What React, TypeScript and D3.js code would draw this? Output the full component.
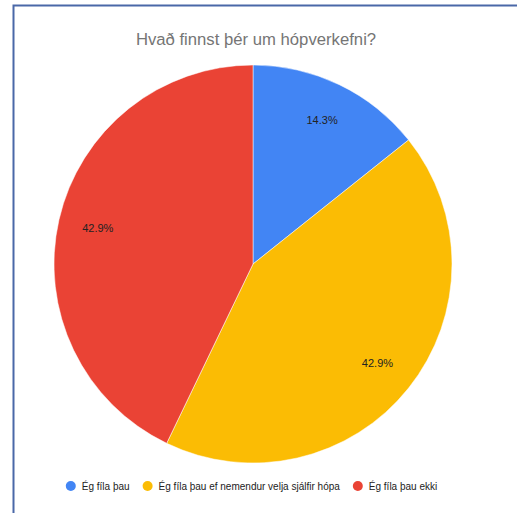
import React, { useEffect, useRef } from "react";
import * as d3 from "d3";

const title = "Hvað finnst þér um hópverkefni?";
const categories = [
  "Ég fíla þau",
  "Ég fíla þau ef nemendur velja sjálfir hópa",
  "Ég fíla þau ekki",
];
const values = [1, 3, 3];
const colors = ["#4285f4", "#fbbc04", "#ea4335"];

const W = 517;
const H = 513;
const FONT = "Arial, 'Liberation Sans', sans-serif";

export default function App() {
  const ref = useRef<SVGSVGElement | null>(null);

  useEffect(() => {
    const svg = d3.select(ref.current);
    svg.selectAll("*").remove();

    svg.append("rect").attr("width", W).attr("height", H).attr("fill", "#ffffff");

    // frame
    svg
      .append("path")
      .attr("d", `M13.5,${H} L13.5,5.5 L${W},5.5`)
      .attr("fill", "none")
      .attr("stroke", "#4a68a8")
      .attr("stroke-width", 2);

    svg
      .append("text")
      .attr("x", 256)
      .attr("y", 45)
      .attr("text-anchor", "middle")
      .attr("font-family", FONT)
      .attr("font-size", 16.7)
      .attr("fill", "#757575")
      .text(title);

    const cx = 253;
    const cy = 264;
    const r = 199;
    const total = d3.sum(values);

    const pie = d3.pie<number>().sort(null).value((d) => d);
    const arcs = pie(values);
    const arc = d3.arc<d3.PieArcDatum<number>>().innerRadius(0).outerRadius(r);
    const labelArc = d3
      .arc<d3.PieArcDatum<number>>()
      .innerRadius(r * 0.8)
      .outerRadius(r * 0.8);

    const g = svg.append("g").attr("transform", `translate(${cx},${cy})`);
    g.selectAll("path.slice")
      .data(arcs)
      .enter()
      .append("path")
      .attr("class", "slice")
      .attr("d", arc)
      .attr("fill", (_, i) => colors[i])
      .attr("stroke", "#ffffff")
      .attr("stroke-width", 0.5);

    g.selectAll("text.lbl")
      .data(arcs)
      .enter()
      .append("text")
      .attr("class", "lbl")
      .attr("transform", (d) => {
        const [x, y] = labelArc.centroid(d);
        return `translate(${x},${y})`;
      })
      .attr("text-anchor", "middle")
      .attr("dy", "0.35em")
      .attr("font-family", FONT)
      .attr("font-size", 11)
      .attr("fill", "#222222")
      .text((d) => `${((d.value / total) * 100).toFixed(1)}%`);

    // legend
    const lg = svg.append("g");
    const items = categories.map((c, i) => {
      const it = lg.append("g");
      it.append("circle").attr("r", 5).attr("cx", 5).attr("cy", 0).attr("fill", colors[i]);
      const t = it
        .append("text")
        .attr("x", 16)
        .attr("dy", "0.35em")
        .attr("font-family", FONT)
        .attr("font-size", 10)
        .attr("fill", "#222222")
        .text(c);
      const w = (t.node() as SVGTextElement).getComputedTextLength();
      return { it, width: 16 + w };
    });
    const gap = 13;
    const totalW = d3.sum(items, (d) => d.width) + gap * (items.length - 1);
    let x = 251.5 - totalW / 2;
    items.forEach((d) => {
      d.it.attr("transform", `translate(${x},486)`);
      x += d.width + gap;
    });
  }, []);

  return (
    <svg
      ref={ref}
      width={W}
      height={H}
      style={{ position: "absolute", left: 0, top: 0, display: "block" }}
    />
  );
}
